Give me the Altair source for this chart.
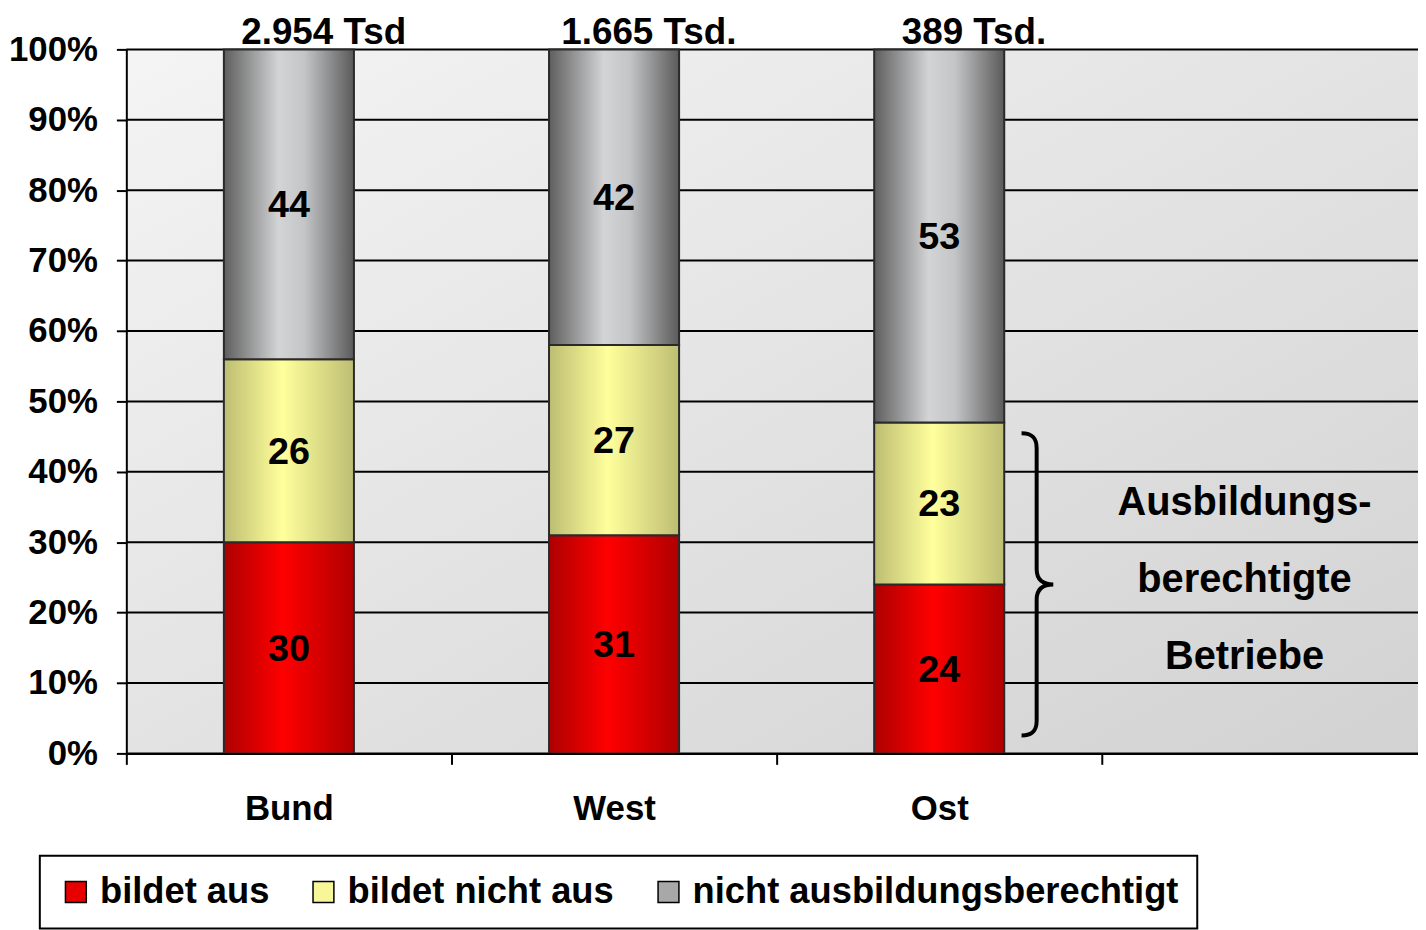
import altair as alt
import pandas as pd

# ---- data -------------------------------------------------------------
categories = ["Bund", "West", "Ost"]
series = ["bildet aus", "bildet nicht aus", "nicht ausbildungsberechtigt"]
bildet_aus = [30, 31, 24]
bildet_nicht_aus = [26, 27, 23]
nicht_berechtigt = [44, 42, 53]
totals = ["2.954 Tsd", "1.665 Tsd.", "389 Tsd."]
blank = " "
annotation = ["Ausbildungs-", "berechtigte", "Betriebe"]
y_ticks = list(range(0, 101, 10))

rows = []
for i, c in enumerate(categories):
    for j, vals in enumerate([bildet_aus, bildet_nicht_aus, nicht_berechtigt]):
        rows.append({"cat": c, "series": series[j], "order": j, "value": vals[i]})
df = pd.DataFrame(rows)
tot_df = pd.DataFrame({"cat": categories, "label": totals})
tick_df = pd.DataFrame({"tick": y_ticks})

FONT = "Liberation Sans"
x_dom = categories + [blank]
BAR = alt.RelativeBandSize(0.4)


def grad(stops, x2=1, y2=0):
    return alt.Gradient(
        gradient="linear", x1=0, x2=x2, y1=0, y2=y2,
        stops=[alt.GradientStop(offset=o, color=c) for o, c in stops],
    )


grads = {
    "bildet aus": grad([(0, "#ad0000"), (0.45, "#ff0000"), (1, "#b00000")]),
    "bildet nicht aus": grad([(0, "#bdbd72"), (0.45, "#ffff9c"), (1, "#bebe74")]),
    "nicht ausbildungsberechtigt": grad([(0, "#5e5e5e"), (0.42, "#d3d4d6"), (0.62, "#c4c5c7"), (1, "#5a5a5a")]),
}

# four category slots (the last one, empty, runs past the window edge)
xscale = alt.Scale(domain=x_dom, paddingInner=0, paddingOuter=0, range=[0, 1308], round=False)
yscale = alt.Scale(domain=[0, 100], nice=False)


def X(**kw):
    return alt.X("cat:N", scale=xscale, title=None, **kw)


# plot-area background (diagonal grey gradient)
background = alt.Chart(tick_df.head(1)).mark_rect(
    color=grad([(0, "#f4f4f4"), (1, "#d2d2d2")], x2=1, y2=1)
).encode(x=alt.value(0), x2=alt.value("width"), y=alt.value(0), y2=alt.value("height"))

grid = alt.Chart(tick_df).mark_rule(color="black", strokeWidth=2).encode(
    y=alt.Y("tick:Q", scale=yscale, title=None), x=alt.value(0), x2=alt.value("width")
)

stacked = alt.Chart(df).transform_stack(
    stack="value", as_=["y0", "y1"], groupby=["cat"],
    sort=[alt.SortField("order", order="ascending")],
).transform_calculate(mid="(datum.y0 + datum.y1) / 2")

# legend-producing base layer (covered by the gradient bars)
legend_layer = stacked.mark_bar(width=BAR).encode(
    x=X(axis=alt.Axis(labelAngle=0, tickBand="extent", zindex=1)),
    y=alt.Y("y0:Q", scale=yscale, title=None,
            axis=alt.Axis(values=y_ticks, labelExpr="datum.value + '%'", grid=False, zindex=1)),
    y2="y1:Q",
    color=alt.Color(
        "series:N", title=None,
        scale=alt.Scale(domain=series, range=["#e60000", "#f7f79a", "#a8a8a8"]),
        legend=alt.Legend(
            orient="none", legendX=-87, legendY=811, direction="horizontal",
            symbolType="square", symbolSize=440, symbolStrokeColor="black",
            symbolStrokeWidth=1.5, labelFont=FONT, labelFontSize=36.5,
            labelFontWeight="bold", labelColor="black", labelOffset=6,
            columnPadding=36, padding=18, strokeColor="black",
            fillColor="white", labelLimit=1000,
        ),
    ),
)

bar_layers = [
    stacked.transform_filter(alt.datum.series == s).mark_bar(
        color=grads[s], stroke="#2a2a2a", strokeWidth=2, width=BAR
    ).encode(x=X(), y=alt.Y("y0:Q", scale=yscale, title=None), y2="y1:Q")
    for s in series
]

values = stacked.mark_text(
    font=FONT, fontSize=38, fontWeight="bold", color="black", baseline="middle", dy=2
).encode(x=X(), y=alt.Y("mid:Q", scale=yscale, title=None), text="value:Q")

tops = alt.Chart(tot_df).mark_text(
    font=FONT, fontSize=37, fontWeight="bold", color="black",
    baseline="alphabetic", dy=-5, dx=35,
).encode(x=X(), y=alt.datum(100), text="label:N")

BRACE = ("M -0.1 -1 C -0.02 -1 0 -0.96 0 -0.9 L 0 -0.1 C 0 -0.03 0.04 0 0.11 0 "
         "C 0.04 0 0 0.03 0 0.1 L 0 0.9 C 0 0.96 -0.02 1 -0.1 1")
brace = alt.Chart(tot_df.head(1)).mark_point(
    shape=BRACE, size=92416, filled=False, stroke="black", strokeWidth=4,
    opacity=1, xOffset=98,
).encode(x=alt.datum("Ost"), y=alt.datum(24))

note = alt.Chart(tot_df.head(1)).mark_text(
    text=annotation, lineHeight=77, font=FONT, fontSize=40, fontWeight="bold",
    color="black", align="center", baseline="middle", dx=-20,
).encode(x=alt.datum(blank), y=alt.datum(35.5))

chart = alt.layer(background, grid, legend_layer, *bar_layers, values, tops, brace, note).properties(
    width=1299, height=708,
    padding={"left": 119, "top": 39, "right": 0, "bottom": 175},
    autosize=alt.AutoSizeParams(type="none"),
).configure_view(
    stroke="transparent",
).configure_legend(
    strokeWidth=2,
).configure_axis(
    labelFont=FONT, labelFontSize=35, labelFontWeight="bold", labelColor="black",
    domainColor="black", domainWidth=2, tickColor="black", tickWidth=2,
).configure_axisY(
    tickSize=10, labelPadding=19, labelBaseline="middle",
).configure_axisX(
    tickSize=11, labelPadding=55, labelBaseline="alphabetic",
)

chart.save("out.html", embed_options={"renderer": "svg", "actions": False})
